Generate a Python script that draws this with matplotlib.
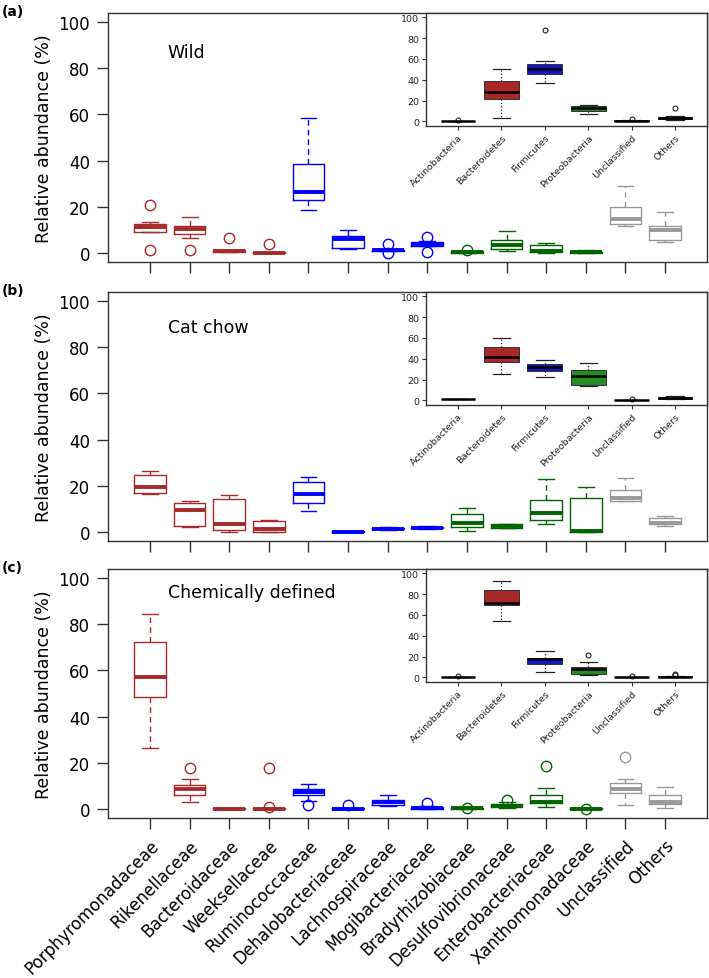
import matplotlib.pyplot as plt
import numpy as np

families = ['Porphyromonadaceae', 'Rikenellaceae', 'Bacteroidaceae',
            'Weeksellaceae', 'Ruminococcaceae', 'Dehalobacteriaceae',
            'Lachnospiraceae', 'Mogibacteriaceae', 'Bradyrhizobiaceae',
            'Desulfovibrionaceae', 'Enterobacteriaceae', 'Xanthomonadaceae',
            'Unclassified', 'Others']
phyla = ['Actinobacteria', 'Bacteroidetes', 'Firmicutes', 'Proteobacteria',
         'Unclassified', 'Others']
diets = ['Wild', 'Cat chow', 'Chemically defined']
tags = ['(a)', '(b)', '(c)']

# five number summaries: [low whisker, q1, median, q3, high whisker]
wild_fam = [[9.0, 9.0, 11.0, 12.6, 13.3], [6.4, 8.1, 10.3, 11.7, 15.5],
            [0.2, 0.4, 0.7, 1.1, 1.2], [0.0, 0.0, 0.1, 0.4, 0.5],
            [18.4, 22.8, 26.5, 38.6, 58.4], [1.8, 2.0, 5.9, 7.4, 9.7],
            [0.6, 0.7, 1.0, 1.4, 1.8], [2.8, 3.1, 3.8, 4.5, 4.9],
            [0.0, 0.0, 0.3, 0.7, 0.8], [0.9, 1.6, 3.5, 5.4, 9.4],
            [0.1, 0.2, 0.8, 3.5, 4.2], [0.0, 0.0, 0.2, 0.5, 1.3],
            [11.6, 12.6, 14.8, 19.7, 28.8], [4.5, 5.4, 10.0, 11.5, 17.8]]
wild_fam_out = [[20.6, 1.4], [1.0], [6.4], [3.8], [], [], [3.8, 0.0],
                [6.8, 0.3], [1.3], [], [], [], [], []]

chow_fam = [[16.5, 16.7, 19.6, 24.8, 26.4], [2.0, 2.6, 9.3, 12.3, 13.2],
            [0.1, 0.6, 3.3, 14.1, 16.1], [0.0, 0.0, 1.4, 4.5, 5.2],
            [9.1, 12.5, 16.4, 21.4, 23.6], [0.0, 0.0, 0.1, 0.2, 0.3],
            [0.9, 1.1, 1.4, 1.7, 2.0], [1.3, 1.5, 1.8, 2.1, 2.3],
            [0.3, 2.0, 3.6, 7.7, 10.1], [1.5, 1.8, 2.6, 3.3, 3.5],
            [3.2, 5.2, 8.0, 13.9, 22.9], [0.0, 0.0, 0.3, 14.6, 19.3],
            [13.2, 13.2, 14.6, 18.0, 23.5], [2.3, 3.2, 3.6, 6.1, 6.7]]
chow_fam_out = [[] for f in families]

chem_fam = [[26.5, 48.7, 57.0, 72.3, 84.6], [2.8, 6.2, 8.8, 10.3, 13.0],
            [0.0, 0.0, 0.1, 0.2, 0.3], [0.0, 0.0, 0.1, 0.3, 0.4],
            [3.5, 6.1, 7.1, 8.4, 10.6], [0.0, 0.0, 0.1, 0.3, 0.4],
            [1.3, 1.6, 2.8, 3.8, 6.1], [0.0, 0.1, 0.4, 0.9, 1.2],
            [0.0, 0.0, 0.15, 0.4, 0.5], [0.5, 0.8, 1.3, 2.0, 3.0],
            [0.6, 2.5, 3.0, 6.1, 9.1], [0.0, 0.0, 0.0, 0.2, 0.3],
            [1.7, 6.7, 8.6, 11.0, 12.9], [0.4, 1.9, 3.0, 6.2, 9.4]]
chem_fam_out = [[], [17.7], [], [17.7, 0.7], [1.7], [1.7], [], [2.7],
                [0.4], [3.9], [18.4], [0.0], [22.3], []]

wild_phy = [[0.0, 0.0, 0.3, 0.6, 0.8], [3.2, 21.2, 28.5, 38.5, 50.3],
            [37.2, 45.2, 50.3, 55.1, 57.7], [7.1, 9.6, 12.8, 15.1, 15.7],
            [0.2, 0.3, 0.8, 1.2, 1.4], [1.5, 2.2, 3.2, 4.5, 5.5]]
wild_phy_out = [[1.0], [], [87.8], [], [1.9], [13.1]]

chow_phy = [[1.3, 1.4, 1.5, 1.6, 1.7], [25.4, 36.5, 41.3, 51.4, 60.3],
            [22.5, 28.6, 31.7, 34.6, 38.7], [13.7, 15.2, 23.5, 29.5, 35.6],
            [0.0, 0.0, 0.1, 0.3, 0.4], [1.0, 1.6, 2.5, 3.5, 4.5]]
chow_phy_out = [[], [], [], [], [1.6], []]

chem_phy = [[0.0, 0.0, 0.1, 0.3, 0.4], [53.8, 69.1, 71.0, 83.5, 92.2],
            [5.1, 13.4, 17.6, 18.9, 25.0], [2.2, 3.8, 8.0, 10.2, 14.4],
            [0.0, 0.0, 0.1, 0.2, 0.3], [0.3, 0.6, 0.9, 1.2, 1.5]]
chem_phy_out = [[1.9], [], [], [21.8], [1.0], [3.8, 2.2]]

fam_data = [(wild_fam, wild_fam_out), (chow_fam, chow_fam_out),
            (chem_fam, chem_fam_out)]
phy_data = [(wild_phy, wild_phy_out), (chow_phy, chow_phy_out),
            (chem_phy, chem_phy_out)]
label_y = [87, 89, 94]

fam_colors = ['#A52A2A'] * 4 + ['#0000FF'] * 4 + ['#006400'] * 4 + ['#999999'] * 2
phy_colors = ['#555555', '#A82828', '#1414C8', '#238B23', '#888888', '#888888']


def to_stats(rows, outs):
    stats = []
    for r, o in zip(rows, outs):
        stats.append(dict(whislo=r[0], q1=r[1], med=r[2], q3=r[3],
                          whishi=r[4], fliers=o))
    return stats


fig = plt.figure(figsize=(7.09, 9.79), dpi=100)
bottoms = [0.7314, 0.4464, 0.1634]
h = 0.2543
left, width = 0.1523, 0.845
ins_left = 0.6008
ins_h = 0.1150

for i in range(3):
    ax = fig.add_axes([left, bottoms[i], width, h])
    rows, outs = fam_data[i]
    pos = np.arange(1, len(families) + 1)
    bp = ax.bxp(to_stats(rows, outs), positions=pos, widths=0.8,
                whiskerprops=dict(linestyle=(0, (4, 3)), linewidth=1),
                boxprops=dict(linewidth=1), capprops=dict(linewidth=1),
                medianprops=dict(linewidth=2.8, solid_capstyle='butt'),
                flierprops=dict(marker='o', markerfacecolor='none',
                                markersize=7.5, markeredgewidth=1))
    for j, c in enumerate(fam_colors):
        bp['boxes'][j].set_color(c)
        bp['medians'][j].set_color(c)
        bp['fliers'][j].set_markeredgecolor(c)
        for k in (2 * j, 2 * j + 1):
            bp['whiskers'][k].set_color(c)
            bp['caps'][k].set_color(c)
    ax.set_xlim(-0.06, 15.06)
    ax.set_ylim(-4, 104)
    ax.set_yticks([0, 20, 40, 60, 80, 100])
    ax.set_xticks(pos)
    if i == 2:
        ax.set_xticklabels(families, rotation=45, ha='right',
                           rotation_mode='anchor', fontsize=12)
    else:
        ax.set_xticklabels([])
    ax.tick_params(axis='both', direction='out', length=8, width=1,
                   color='#333333', labelsize=12, pad=5)
    for s in ax.spines.values():
        s.set_color('#333333')
        s.set_linewidth(1)
    ax.set_ylabel('Relative abundance (%)', fontsize=12.5, labelpad=4)
    ax.text(1.45, label_y[i], diets[i], fontsize=12.5, va='center')
    fig.text(0.002, bottoms[i] + h + 0.002, tags[i], fontsize=10,
             fontweight='bold', va='center')

    # inset with phylum level summary
    iax = fig.add_axes([ins_left, bottoms[i] + h - ins_h,
                        left + width - ins_left, ins_h])
    prow, pout = phy_data[i]
    ipos = np.arange(1, len(phyla) + 1)
    ibp = iax.bxp(to_stats(prow, pout), positions=ipos, widths=0.8,
                  patch_artist=True,
                  whiskerprops=dict(linestyle=':', linewidth=0.9, color='#222222'),
                  boxprops=dict(linewidth=0.7, edgecolor='#333333'),
                  capprops=dict(linewidth=0.9, color='#222222'),
                  medianprops=dict(linewidth=1.8, color='black',
                                   solid_capstyle='butt'),
                  flierprops=dict(marker='o', markerfacecolor='none',
                                  markeredgecolor='#222222', markersize=3.5,
                                  markeredgewidth=0.8))
    for j, c in enumerate(phy_colors):
        ibp['boxes'][j].set_facecolor(c)
    iax.set_xlim(0.26, 6.74)
    iax.set_ylim(-4, 104)
    iax.set_yticks([0, 20, 40, 60, 80, 100])
    iax.set_xticks(ipos)
    iax.set_xticklabels(phyla, rotation=45, ha='right', rotation_mode='anchor')
    iax.tick_params(axis='both', direction='out', length=3, width=0.8,
                    color='#333333', labelsize=6.8, labelcolor='#222222', pad=2)
    for s in iax.spines.values():
        s.set_color('#333333')
        s.set_linewidth(1)

fig.savefig('out.png', dpi=100)
